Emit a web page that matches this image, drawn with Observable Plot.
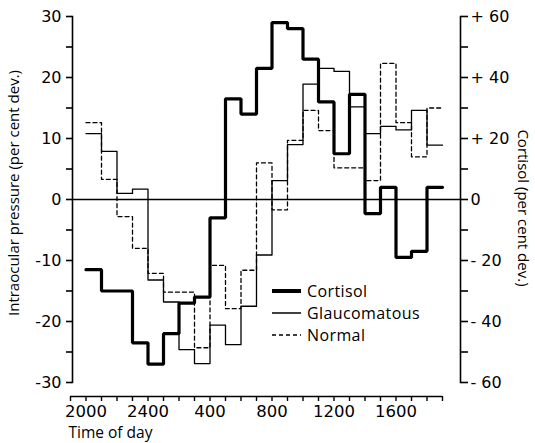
<!DOCTYPE html>
<html>
<head>
<meta charset="utf-8">
<script src="https://cdn.jsdelivr.net/npm/d3@7"></script>
<script src="https://cdn.jsdelivr.net/npm/@observablehq/plot@0.6"></script>
<style>
  html, body { margin: 0; padding: 0; background: #fff; }
  #wrap { position: relative; width: 535px; height: 443px; font-family: "Open Sans", sans-serif; overflow: hidden; }
  #legend { position: absolute; left: 272px; top: 280px; font-size: 16px; letter-spacing: 0.4px; color: #000; }
  #legend div { display: flex; align-items: center; height: 22px; }
  #legend svg { width: 30px; height: 10px; margin-right: 5px; }
  .ylab { position: absolute; width: 320px; height: 20px; line-height: 20px; text-align: center; font-size: 15px; color: #000; white-space: nowrap; }
</style>
</head>
<body>
<div id="wrap"></div>
<script>
// Hours counted from 1900 (0) to 1900 next day (24); each bin is one hour, first bin starts at 2000 (hour 1)
const binStart = 1;
const hourTicks = d3.range(0, 25);
const xTickHours = [1, 5, 9, 13, 17, 21];
const xTickLabels = ["2000", "2400", "400", "800", "1200", "1600"];

// Intraocular pressure (per cent deviation) – left axis
const glaucomatous = [10.8, 7.9, 1, 1.7, -13.2, -16.8, -24.6, -26.9, -20.6, -23.8, -17.5, -9.1, 3.1, 9.0, 18.9, 21.5, 21, 15.2, 10.8, 12, 11.4, 14.6, 8.9];
const normal = [12.6, 3.3, -2.8, -8.0, -12.1, -15.2, -15.2, -24.3, -10.8, -17.9, -11.6, 6.0, -1.7, 9.7, 14.6, 11.3, 5.2, 5.2, 3.1, 22.3, 12.6, 7, 15];
// Cortisol (per cent deviation) – right axis
const cortisol = [-23, -30, -30, -47, -54, -44, -34, -32, -6, 33, 28, 43, 58, 56, 46, 32, 15, 34.5, -4.6, 4, -19, -17, 4];

const leftTicks = d3.range(-30, 31, 5);
const leftTickLabels = {"30": "30", "20": "20", "10": "10", "0": "0", "-10": "-10", "-20": "-20", "-30": "-30"};
const rightTickLabels = {"30": "+ 60", "20": "+ 40", "10": "+ 20", "0": "0", "-10": "- 20", "-20": "- 40", "-30": "- 60"};

const seriesNames = ["Cortisol", "Glaucomatous", "Normal"];
const xTitle = "Time of day";
const yTitleLeft = "Intraocular pressure (per cent dev.)";
const yTitleRight = "Cortisol (per cent dev.)";

function steps(vals, scale) {
  const pts = vals.map((v, i) => ({h: binStart + i, v: v * scale}));
  pts.push({h: binStart + vals.length, v: vals[vals.length - 1] * scale});
  return pts;
}

const font = "Open Sans, sans-serif";
const tickFont = "DejaVu Sans, sans-serif";

const chart = Plot.plot({
  width: 535,
  height: 443,
  marginLeft: 72,
  marginRight: 75,
  marginTop: 16,
  marginBottom: 61,
  x: {domain: [0, 24], range: [70, 442], axis: null},
  y: {domain: [-30, 30], axis: null},
  style: {fontFamily: font, color: "#000", background: "#fff"},
  marks: [
    Plot.frame({anchor: "left", stroke: "#000", strokeWidth: 1.6}),
    Plot.frame({anchor: "right", stroke: "#000", strokeWidth: 1.6}),
    Plot.ruleY([0], {stroke: "#000", strokeWidth: 1.5}),
    Plot.axisY({anchor: "left", ticks: leftTicks, tickSize: 6, tickPadding: 5, strokeWidth: 1.6, label: null,
      tickFormat: d => leftTickLabels[String(d)] ?? "", fontSize: 16, fontFamily: tickFont}),
    Plot.axisY({anchor: "right", ticks: leftTicks, tickSize: 7, tickPadding: 3, strokeWidth: 1.6, label: null,
      tickFormat: d => rightTickLabels[String(d)] ?? "", fontSize: 16, fontFamily: tickFont}),
    Plot.ruleY([-30], {x1: 0, x2: 24, dy: 14, stroke: "#000", strokeWidth: 1.6}),
    Plot.axisX({anchor: "bottom", ticks: hourTicks, tickSize: 5, dy: 14, strokeWidth: 1.4, tickFormat: () => "", label: null}),
    Plot.text(xTickLabels, {x: (d, i) => xTickHours[i], frameAnchor: "bottom", dy: 34, fontSize: 16.5, fontFamily: tickFont, fill: "#000"}),
    Plot.text([xTitle], {frameAnchor: "bottom-left", dx: -4, dy: 55, textAnchor: "start", fontSize: 15.5, fill: "#000"}),
    Plot.line(steps(normal, 1), {x: "h", y: "v", curve: "step-after", stroke: "#000", strokeWidth: 1.3, strokeDasharray: "4,3"}),
    Plot.line(steps(glaucomatous, 1), {x: "h", y: "v", curve: "step-after", stroke: "#000", strokeWidth: 1.3}),
    Plot.line(steps(cortisol, 0.5), {x: "h", y: "v", curve: "step-after", stroke: "#000", strokeWidth: 3.2, strokeLinejoin: "miter"})
  ]
});

const wrap = document.getElementById("wrap");
wrap.appendChild(chart);

function addYLabel(text, cx, cy, deg) {
  const el = document.createElement("div");
  el.className = "ylab";
  el.textContent = text;
  el.style.left = (cx - 160) + "px";
  el.style.top = (cy - 10) + "px";
  el.style.transform = `rotate(${deg}deg)`;
  wrap.appendChild(el);
}
addYLabel(yTitleLeft, 13, 193, -90);
addYLabel(yTitleRight, 524, 208, 90);

const legend = document.createElement("div");
legend.id = "legend";
const styles = [
  {w: 4, dash: ""},
  {w: 1.5, dash: ""},
  {w: 1.3, dash: "4,3"}
];
seriesNames.forEach((name, i) => {
  const row = document.createElement("div");
  row.innerHTML = `<svg viewBox="0 0 30 10"><line x1="0" x2="29" y1="5" y2="5" stroke="#000" stroke-width="${styles[i].w}" ${styles[i].dash ? `stroke-dasharray="${styles[i].dash}"` : ""}/></svg><span>${name}</span>`;
  legend.appendChild(row);
});
wrap.appendChild(legend);
</script>
</body>
</html>
